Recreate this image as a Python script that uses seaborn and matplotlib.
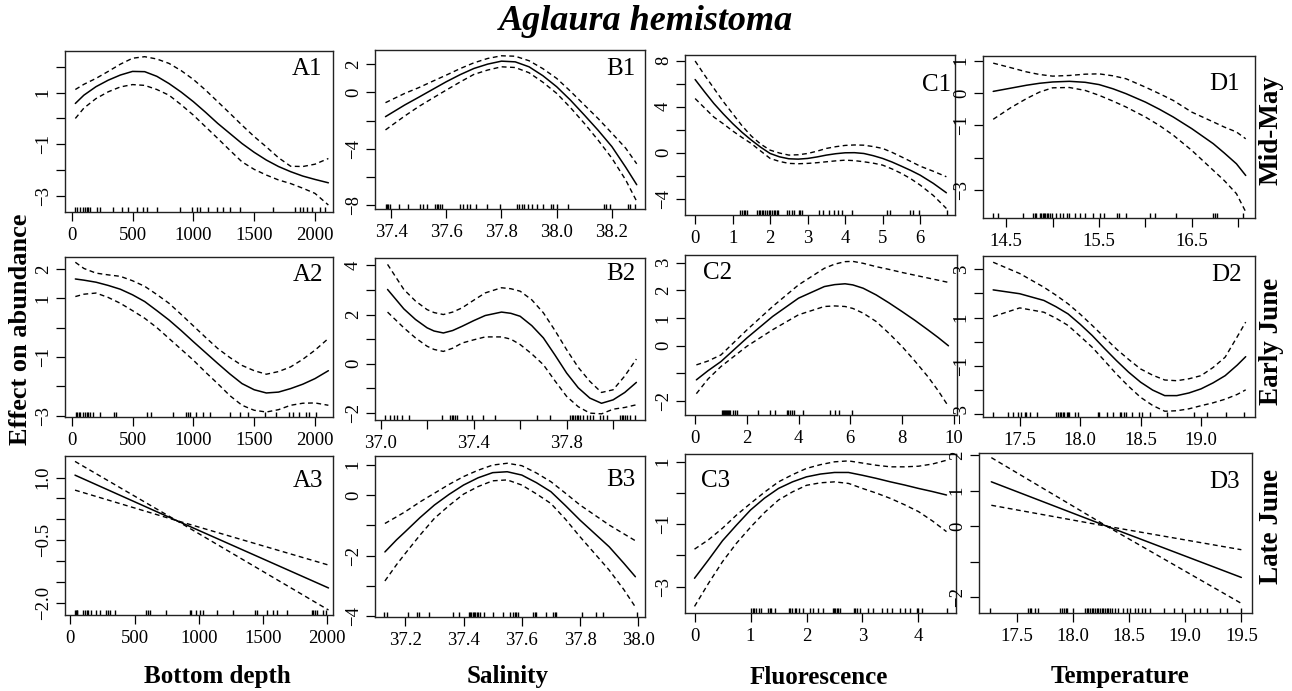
import matplotlib
matplotlib.use("Agg")
import matplotlib.pyplot as plt
import seaborn as sns

# ---------------- data ----------------
# GAM partial effects of Aglaura hemistoma: fit, upper and lower band, rug of observations

# A: bottom depth
a1_x = [30, 100, 200, 300, 400, 500, 600, 700, 800, 900, 1000, 1100, 1200, 1300, 1400, 1500,
        1600, 1700, 1800, 1900, 2000, 2110]
a1_fit = [0.58, 0.90, 1.23, 1.48, 1.68, 1.82, 1.81, 1.63, 1.35, 1.02, 0.65, 0.24, -0.19, -0.58,
          -0.97, -1.31, -1.61, -1.86, -2.06, -2.23, -2.36, -2.49]
a1_up = [1.12, 1.32, 1.55, 1.82, 2.10, 2.33, 2.39, 2.30, 2.13, 1.85, 1.51, 1.10, 0.65, 0.20,
         -0.26, -0.70, -1.10, -1.52, -1.85, -1.86, -1.77, -1.55]
a1_lo = [0.00, 0.40, 0.77, 1.03, 1.22, 1.31, 1.28, 1.12, 0.90, 0.53, 0.13, -0.32, -0.77, -1.23,
         -1.68, -1.97, -2.19, -2.38, -2.52, -2.70, -2.90, -3.35]
a1_rug = [27, 41, 68, 96, 110, 123, 137, 151, 205, 233, 342, 411, 466, 534, 589, 616, 699,
          890, 986, 1027, 1055, 1123, 1192, 1247, 1301, 1384, 1658, 1836, 1877, 1904, 1932,
          1973, 2041, 2082]

a2_x = [30, 100, 200, 300, 400, 500, 600, 700, 800, 900, 1000, 1100, 1200, 1300, 1400, 1500,
        1600, 1700, 1800, 1900, 2000, 2110]
a2_fit = [1.66, 1.62, 1.55, 1.44, 1.31, 1.12, 0.89, 0.58, 0.26, -0.10, -0.48, -0.85, -1.22,
          -1.58, -1.91, -2.12, -2.23, -2.20, -2.08, -1.93, -1.74, -1.47]
a2_up = [2.23, 2.02, 1.86, 1.80, 1.75, 1.60, 1.41, 1.13, 0.83, 0.45, 0.06, -0.33, -0.71, -1.02,
         -1.29, -1.47, -1.59, -1.50, -1.34, -1.08, -0.77, -0.37]
a2_lo = [1.06, 1.14, 1.18, 1.03, 0.83, 0.58, 0.32, 0.00, -0.37, -0.74, -1.11, -1.52, -1.91,
         -2.32, -2.65, -2.82, -2.88, -2.80, -2.65, -2.58, -2.57, -2.65]
a2_rug = [36, 46, 57, 68, 96, 109, 123, 137, 150, 178, 232, 347, 363, 615, 648, 833, 943,
          956, 970, 1025, 1079, 1134, 1298, 1380, 1448, 1585, 1680, 1790, 1817, 1872, 1926,
          1954, 2008]

a3_x = [36, 826, 2010]
a3_fit = [1.06, -0.03, -1.65]
a3_up = [1.39, -0.03, -2.18]
a3_lo = [0.70, -0.03, -1.10]
a3_rug = [39, 44, 49, 55, 96, 117, 128, 138, 161, 201, 227, 279, 292, 305, 344, 591, 604,
          617, 747, 930, 943, 982, 1008, 1034, 1138, 1268, 1438, 1451, 1529, 1581, 1607,
          1685, 1880, 1893, 1906, 1919, 1971, 1992]

# B: salinity
b1_x = [37.38, 37.45, 37.50, 37.55, 37.60, 37.65, 37.70, 37.75, 37.80, 37.85, 37.90, 37.95,
        38.00, 38.05, 38.10, 38.15, 38.20, 38.25, 38.29]
b1_fit = [-1.72, -0.89, -0.35, 0.20, 0.75, 1.25, 1.69, 2.00, 2.21, 2.16, 1.81, 1.18, 0.40,
          -0.55, -1.60, -2.68, -3.84, -5.30, -6.54]
b1_up = [-0.73, -0.07, 0.33, 0.78, 1.22, 1.68, 2.09, 2.40, 2.59, 2.56, 2.24, 1.68, 0.99, 0.08,
         -0.89, -1.85, -2.89, -3.95, -5.06]
b1_lo = [-2.66, -1.67, -1.01, -0.42, 0.16, 0.73, 1.27, 1.58, 1.81, 1.76, 1.39, 0.72, -0.07,
         -1.08, -2.19, -3.38, -4.66, -6.20, -7.72]
b1_rug = [37.381, 37.384, 37.390, 37.396, 37.430, 37.463, 37.505, 37.517, 37.529, 37.560,
          37.566, 37.572, 37.578, 37.584, 37.650, 37.662, 37.674, 37.686, 37.708, 37.747,
          37.795, 37.856, 37.864, 37.874, 37.882, 37.898, 37.910, 37.928, 37.952, 37.980,
          37.988, 38.000, 38.040, 38.170, 38.178, 38.194, 38.260, 38.266, 38.285]

b2_x = [37.03, 37.10, 37.15, 37.20, 37.23, 37.27, 37.31, 37.35, 37.40, 37.45, 37.52, 37.56,
        37.60, 37.65, 37.70, 37.75, 37.80, 37.85, 37.90, 37.95, 38.00, 38.05, 38.10]
b2_fit = [3.02, 2.23, 1.80, 1.46, 1.33, 1.25, 1.35, 1.52, 1.75, 1.96, 2.10, 2.05, 1.93, 1.55,
          1.05, 0.35, -0.38, -0.98, -1.40, -1.61, -1.47, -1.17, -0.76]
b2_up = [4.04, 3.02, 2.55, 2.20, 2.08, 2.00, 2.10, 2.27, 2.58, 2.88, 3.09, 3.05, 2.95, 2.60,
         2.07, 1.35, 0.57, -0.15, -0.72, -1.17, -1.06, -0.50, 0.19]
b2_lo = [2.10, 1.46, 1.05, 0.71, 0.58, 0.50, 0.63, 0.84, 0.97, 1.09, 1.09, 1.00, 0.78, 0.40,
         -0.04, -0.70, -1.33, -1.75, -2.01, -2.04, -1.85, -1.78, -1.67]
b2_rug = [37.019, 37.040, 37.057, 37.072, 37.090, 37.123, 37.262, 37.298, 37.305, 37.313,
          37.320, 37.327, 37.370, 37.391, 37.442, 37.492, 37.671, 37.728, 37.814, 37.821,
          37.829, 37.836, 37.843, 37.850, 37.857, 37.872, 37.886, 37.900, 37.915, 37.943,
          37.958, 37.972, 38.029, 38.037, 38.044, 38.051, 38.058, 38.072, 38.094]

b3_x = [37.13, 37.17, 37.20, 37.25, 37.30, 37.35, 37.40, 37.45, 37.50, 37.55, 37.60, 37.65,
        37.70, 37.75, 37.80, 37.85, 37.90, 37.95, 37.99]
b3_fit = [-1.88, -1.48, -1.21, -0.75, -0.33, 0.02, 0.33, 0.57, 0.74, 0.77, 0.66, 0.41, 0.11,
          -0.35, -0.83, -1.27, -1.71, -2.25, -2.70]
b3_up = [-0.94, -0.72, -0.55, -0.23, 0.06, 0.35, 0.61, 0.82, 0.99, 1.05, 0.97, 0.73, 0.44,
         0.06, -0.33, -0.66, -0.99, -1.28, -1.51]
b3_lo = [-2.84, -2.30, -1.93, -1.33, -0.77, -0.35, 0.03, 0.28, 0.47, 0.50, 0.33, 0.04, -0.28,
         -0.80, -1.38, -1.93, -2.48, -3.12, -3.70]
b3_rug = [37.128, 37.136, 37.208, 37.239, 37.246, 37.280, 37.363, 37.384, 37.418, 37.423,
          37.427, 37.432, 37.436, 37.441, 37.446, 37.450, 37.455, 37.470, 37.500, 37.535,
          37.558, 37.569, 37.575, 37.581, 37.587, 37.638, 37.644, 37.650, 37.682, 37.707,
          37.713, 37.719, 37.805, 37.856, 37.879, 37.994]

# C: fluorescence
c1_x = [0.0, 0.25, 0.5, 0.75, 1.0, 1.25, 1.5, 1.75, 2.0, 2.25, 2.5, 2.75, 3.0, 3.25, 3.5,
        3.75, 4.0, 4.25, 4.5, 4.75, 5.0, 5.25, 5.5, 5.75, 6.0, 6.35, 6.7]
c1_fit = [6.36, 5.30, 4.28, 3.38, 2.54, 1.78, 1.10, 0.48, -0.06, -0.35, -0.52, -0.55, -0.49,
          -0.36, -0.20, -0.08, 0.00, 0.01, -0.06, -0.25, -0.49, -0.80, -1.16, -1.53, -1.94,
          -2.65, -3.47]
c1_up = [7.97, 6.75, 5.60, 4.45, 3.40, 2.35, 1.45, 0.75, 0.23, -0.02, -0.20, -0.17, -0.06,
         0.14, 0.38, 0.53, 0.64, 0.68, 0.66, 0.54, 0.38, 0.04, -0.35, -0.75, -1.16, -1.60, -2.08]
c1_lo = [4.71, 3.90, 3.10, 2.52, 1.90, 1.33, 0.80, 0.15, -0.49, -0.75, -0.92, -0.95, -0.92,
         -0.86, -0.78, -0.70, -0.64, -0.68, -0.78, -0.90, -1.07, -1.40, -1.79, -2.25, -2.80,
         -3.70, -4.83]
c1_rug = [1.20, 1.24, 1.29, 1.33, 1.38, 1.64, 1.69, 1.73, 1.78, 1.82, 1.87, 1.91, 1.96, 2.00,
          2.04, 2.09, 2.13, 2.18, 2.22, 2.44, 2.49, 2.58, 2.64, 2.76, 2.80, 2.84, 3.29, 3.42,
          3.56, 3.69, 3.82, 3.91, 4.18, 5.11, 5.20, 5.73, 5.82, 5.98, 6.71]

c2_x = [0.05, 0.5, 1, 2, 3, 4, 5, 5.4, 5.8, 6.1, 6.5, 7, 7.5, 8, 8.5, 9, 9.4, 9.8]
c2_fit = [-1.23, -0.90, -0.57, 0.28, 1.06, 1.72, 2.14, 2.21, 2.24, 2.20, 2.08, 1.84, 1.55,
          1.24, 0.92, 0.58, 0.30, 0.00]
c2_up = [-0.69, -0.55, -0.33, 0.57, 1.42, 2.20, 2.80, 2.95, 3.04, 3.05, 2.98, 2.86, 2.76,
         2.65, 2.55, 2.45, 2.37, 2.29]
c2_lo = [-1.73, -1.20, -0.75, -0.02, 0.58, 1.12, 1.42, 1.44, 1.42, 1.35, 1.18, 0.88, 0.45,
         -0.02, -0.55, -1.11, -1.62, -2.19]
c2_rug = [1.03, 1.07, 1.11, 1.15, 1.19, 1.23, 1.26, 1.30, 1.35, 1.46, 1.55, 1.64, 2.45, 2.90,
          3.10, 3.55, 3.61, 3.68, 3.74, 3.81, 4.19, 5.23, 5.42, 5.55, 6.06]

c3_x = [0.0, 0.25, 0.5, 0.75, 1.0, 1.25, 1.5, 1.75, 2.0, 2.25, 2.5, 2.75, 3.0, 3.25, 3.5,
        3.75, 4.0, 4.25, 4.5]
c3_fit = [-2.73, -2.14, -1.53, -1.03, -0.55, -0.17, 0.14, 0.35, 0.51, 0.60, 0.65, 0.65, 0.56,
          0.46, 0.35, 0.25, 0.14, 0.04, -0.07]
c3_up = [-1.80, -1.50, -1.13, -0.71, -0.34, 0.02, 0.35, 0.58, 0.78, 0.90, 0.99, 1.02, 0.95,
         0.88, 0.83, 0.83, 0.85, 0.92, 1.04]
c3_lo = [-3.63, -2.89, -2.20, -1.61, -1.10, -0.63, -0.23, 0.03, 0.24, 0.32, 0.35, 0.30, 0.14,
         -0.01, -0.18, -0.38, -0.60, -0.90, -1.24]
c3_rug = [1.01, 1.04, 1.07, 1.10, 1.15, 1.19, 1.31, 1.34, 1.37, 1.43, 1.69, 1.71, 1.74, 1.79,
          1.82, 1.87, 1.94, 2.06, 2.12, 2.21, 2.29, 2.47, 2.49, 2.51, 2.54, 2.56, 2.59, 2.84,
          2.87, 2.90, 2.96, 3.10, 3.19, 3.34, 3.43, 3.52, 3.67, 3.76, 3.85, 3.97, 4.00, 4.06,
          4.51]

# D: temperature
d1_x = [14.36, 14.55, 14.72, 14.86, 15.0, 15.18, 15.35, 15.5, 15.65, 15.79, 16.0, 16.15, 16.3,
        16.5, 16.73, 16.85, 16.98, 17.08]
d1_fit = [0.05, 0.15, 0.24, 0.30, 0.34, 0.36, 0.33, 0.26, 0.13, -0.02, -0.28, -0.50, -0.74,
          -1.10, -1.56, -1.85, -2.18, -2.54]
d1_up = [0.92, 0.78, 0.65, 0.57, 0.52, 0.54, 0.58, 0.59, 0.53, 0.44, 0.18, -0.02, -0.23,
         -0.59, -0.89, -1.05, -1.20, -1.41]
d1_lo = [-0.81, -0.45, -0.17, 0.03, 0.16, 0.17, 0.08, -0.07, -0.25, -0.43, -0.74, -1.00,
         -1.30, -1.77, -2.38, -2.70, -3.10, -3.66]
d1_rug = [14.356, 14.41, 14.68, 14.79, 14.806, 14.82, 14.86, 14.88, 14.90, 14.91, 14.92,
          14.94, 14.95, 14.97, 14.99, 15.04, 15.08, 15.11, 15.15, 15.18, 15.24, 15.29, 15.35,
          15.44, 15.51, 15.55, 15.69, 15.72, 15.79, 16.05, 16.10, 16.33, 16.73, 16.75, 16.77,
          17.05]

d2_x = [17.28, 17.5, 17.7, 17.8, 17.9, 18.0, 18.1, 18.2, 18.3, 18.4, 18.5, 18.6, 18.7, 18.8,
        18.9, 19.0, 19.1, 19.2, 19.3, 19.37]
d2_fit = [2.15, 1.99, 1.71, 1.45, 1.15, 0.72, 0.25, -0.28, -0.79, -1.27, -1.69, -2.02, -2.25,
          -2.25, -2.14, -1.97, -1.72, -1.42, -0.98, -0.63]
d2_up = [3.30, 2.83, 2.26, 1.93, 1.57, 1.14, 0.67, 0.18, -0.31, -0.74, -1.14, -1.40, -1.60,
         -1.63, -1.55, -1.42, -1.08, -0.65, 0.20, 0.81]
d2_lo = [1.04, 1.40, 1.22, 0.97, 0.67, 0.22, -0.24, -0.79, -1.35, -1.86, -2.32, -2.66, -2.90,
         -2.88, -2.80, -2.67, -2.55, -2.40, -2.20, -2.01]
d2_rug = [17.28, 17.40, 17.445, 17.486, 17.514, 17.54, 17.555, 17.583, 17.64, 17.80, 17.82,
          17.83, 17.845, 17.86, 17.87, 17.89, 17.90, 17.91, 17.96, 17.98, 18.15, 18.16, 18.22,
          18.27, 18.33, 18.34, 18.36, 18.38, 18.43, 18.49, 18.51, 18.58, 18.72, 18.94, 19.05,
          19.21, 19.36]

d3_x = [17.27, 18.3, 19.5]
d3_fit = [1.25, 0.00, -1.44]
d3_up = [1.93, 0.00, -2.17]
d3_lo = [0.59, 0.00, -0.66]
d3_rug = [17.256, 17.598, 17.613, 17.628, 17.658, 17.688, 17.882, 17.896, 17.917, 17.935,
          17.947, 18.0, 18.105, 18.12, 18.135, 18.15, 18.165, 18.18, 18.194, 18.209, 18.224,
          18.239, 18.254, 18.269, 18.284, 18.299, 18.314, 18.329, 18.344, 18.373, 18.403,
          18.448, 18.478, 18.507, 18.552, 18.582, 18.612, 18.642, 18.686, 18.806, 18.895,
          18.969, 19.074, 19.133, 19.193, 19.312, 19.372, 19.5]

# tick positions and labels (R drops labels that would overlap)
depth_ticks = [0, 500, 1000, 1500, 2000]
depth_labels = ["0", "500", "1000", "1500", "2000"]

title = "Aglaura hemistoma"
y_title = "Effect on abundance"
x_titles = ["Bottom depth", "Salinity", "Fluorescence", "Temperature"]
row_titles = ["Mid-May", "Early June", "Late June"]

# ---------------- figure ----------------
sns.set_theme(style="ticks")
plt.rcParams["font.family"] = ["Liberation Serif", "DejaVu Serif"]
plt.rcParams.update({"text.color": "black", "axes.labelcolor": "black",
                     "xtick.color": "black", "ytick.color": "black"})

W, H = 1292, 691
fig = plt.figure(figsize=(W / 100, H / 100), dpi=100)

M = "\u2212"
panels = [
    dict(tag="A1", x=a1_x, fit=a1_fit, up=a1_up, lo=a1_lo, rug=a1_rug,
         box=(65, 51, 333, 212), xlim=(-55, 2148), ylim=(-3.62, 2.61),
         xt=depth_ticks, xl=depth_labels,
         yt=[-3, -2, -1, 0, 1, 2], yl=[M + "3", "", M + "1", "", "1", ""], tp=(0.96, 0.89, "right")),
    dict(tag="B1", x=b1_x, fit=b1_fit, up=b1_up, lo=b1_lo, rug=b1_rug,
         box=(375, 50, 645, 209), xlim=(37.342, 38.32), ylim=(-8.26, 3.0),
         xt=[37.4, 37.6, 37.8, 38.0, 38.2], xl=["37.4", "37.6", "37.8", "38.0", "38.2"],
         yt=[-8, -6, -4, -2, 0, 2], yl=[M + "8", "", M + "4", "", "0", "2"], tp=(0.963, 0.88, "right")),
    dict(tag="C1", x=c1_x, fit=c1_fit, up=c1_up, lo=c1_lo, rug=c1_rug,
         box=(685, 55, 955, 215), xlim=(-0.27, 6.93), ylim=(-5.4, 8.49),
         xt=[0, 1, 2, 3, 4, 5, 6], xl=["0", "1", "2", "3", "4", "5", "6"],
         yt=[-4, -2, 0, 2, 4, 6, 8], yl=[M + "4", "", "0", "", "4", "", "8"], tp=(0.985, 0.81, "right")),
    dict(tag="D1", x=d1_x, fit=d1_fit, up=d1_up, lo=d1_lo, rug=d1_rug,
         box=(983, 56, 1255, 218), xlim=(14.25, 17.18), ylim=(-3.85, 1.14),
         xt=[14.5, 15.0, 15.5, 16.0, 16.5, 17.0], xl=["14.5", "", "15.5", "", "16.5", ""],
         yt=[-3, -2, -1, 0, 1], yl=[M + "3", "", M + "1", "0", "1"], tp=(0.945, 0.83, "right")),
    dict(tag="A2", x=a2_x, fit=a2_fit, up=a2_up, lo=a2_lo, rug=a2_rug,
         box=(65, 257, 333, 417), xlim=(-55, 2148), ylim=(-3.05, 2.41),
         xt=depth_ticks, xl=depth_labels,
         yt=[-3, -2, -1, 0, 1, 2], yl=[M + "3", "", M + "1", "", "1", "2"], tp=(0.965, 0.89, "right")),
    dict(tag="B2", x=b2_x, fit=b2_fit, up=b2_up, lo=b2_lo, rug=b2_rug,
         box=(375, 258, 645, 420), xlim=(36.976, 38.137), ylim=(-2.29, 4.30),
         xt=[37.0, 37.2, 37.4, 37.6, 37.8, 38.0], xl=["37.0", "", "37.4", "", "37.8", ""],
         yt=[-2, -1, 0, 1, 2, 3, 4], yl=[M + "2", "", "0", "", "2", "", "4"], tp=(0.966, 0.90, "right")),
    dict(tag="C2", x=c2_x, fit=c2_fit, up=c2_up, lo=c2_lo, rug=c2_rug,
         box=(685, 255, 957, 415), xlim=(-0.39, 10.13), ylim=(-2.5, 3.28),
         xt=[0, 2, 4, 6, 8, 10], xl=["0", "2", "4", "6", "8", "10"],
         yt=[-2, -1, 0, 1, 2, 3], yl=[M + "2", "", "0", "1", "2", "3"], tp=(0.065, 0.885, "left")),
    dict(tag="D2", x=d2_x, fit=d2_fit, up=d2_up, lo=d2_lo, rug=d2_rug,
         box=(983, 256, 1255, 417), xlim=(17.196, 19.447), ylim=(-3.14, 3.56),
         xt=[17.5, 18.0, 18.5, 19.0], xl=["17.5", "18.0", "18.5", "19.0"],
         yt=[-3, -2, -1, 0, 1, 2, 3], yl=[M + "3", "", M + "1", "", "1", "", "3"], tp=(0.95, 0.88, "right")),
    dict(tag="A3", x=a3_x, fit=a3_fit, up=a3_up, lo=a3_lo, rug=a3_rug,
         box=(65, 456, 333, 615), xlim=(-42, 2045), ylim=(-2.30, 1.52),
         xt=depth_ticks, xl=depth_labels,
         yt=[-2.0, -1.5, -1.0, -0.5, 0.0, 0.5, 1.0], yl=[M + "2.0", "", "", M + "0.5", "", "", "1.0"],
         tp=(0.965, 0.84, "right")),
    dict(tag="B3", x=b3_x, fit=b3_fit, up=b3_up, lo=b3_lo, rug=b3_rug,
         box=(375, 456, 645, 617), xlim=(37.096, 38.023), ylim=(-4.03, 1.29),
         xt=[37.2, 37.4, 37.6, 37.8, 38.0], xl=["37.2", "37.4", "37.6", "37.8", "38.0"],
         yt=[-4, -3, -2, -1, 0, 1], yl=[M + "4", "", M + "2", "", "0", "1"], tp=(0.963, 0.85, "right")),
    dict(tag="C3", x=c3_x, fit=c3_fit, up=c3_up, lo=c3_lo, rug=c3_rug,
         box=(685, 454, 956, 613), xlim=(-0.17, 4.67), ylim=(-3.84, 1.24),
         xt=[0, 1, 2, 3, 4], xl=["0", "1", "2", "3", "4"],
         yt=[-3, -2, -1, 0, 1], yl=[M + "3", "", M + "1", "", "1"], tp=(0.06, 0.83, "left")),
    dict(tag="D3", x=d3_x, fit=d3_fit, up=d3_up, lo=d3_lo, rug=d3_rug,
         box=(979, 453, 1252, 613), xlim=(17.16, 19.595), ylim=(-2.44, 2.06),
         xt=[17.5, 18.0, 18.5, 19.0, 19.5], xl=["17.5", "18.0", "18.5", "19.0", "19.5"],
         yt=[-2, -1, 0, 1, 2], yl=[M + "2", "", "0", "1", "2"], tp=(0.957, 0.82, "right")),
]

for p in panels:
    l, t, r, b = p["box"]
    ax = fig.add_axes([l / W, 1 - b / H, (r - l) / W, (b - t) / H])
    sns.lineplot(x=p["x"], y=p["fit"], ax=ax, color="black", lw=1.1,
                 estimator=None, sort=False)
    for key in ("up", "lo"):
        sns.lineplot(x=p["x"], y=p[key], ax=ax, color="black", lw=1.0,
                     linestyle=(0, (3.5, 2.5)), estimator=None, sort=False)
    sns.rugplot(x=p["rug"], ax=ax, height=0.03, color="black", lw=0.7)

    ax.set_xlim(*p["xlim"])
    ax.set_ylim(*p["ylim"])
    ax.set_xticks(p["xt"])
    ax.set_xticklabels(p["xl"])
    ax.set_yticks(p["yt"])
    ax.set_yticklabels(p["yl"], rotation=90, va="center")
    ax.tick_params(direction="out", length=6.5, width=0.9, colors="black",
                   labelsize=13.5, pad=3)
    ax.tick_params(axis="x", pad=4)
    for s in ax.spines.values():
        s.set_visible(True)
        s.set_color("#222222")
        s.set_linewidth(1.0)
    ax.set_xlabel("")
    ax.set_ylabel("")
    tx, ty, ha = p["tp"]
    ax.text(tx, ty, p["tag"], transform=ax.transAxes, ha=ha, va="center", fontsize=18)

fig.text(0.5, 1 - 22 / H, title, ha="center", va="center", fontsize=26,
         fontweight="bold", style="italic")
fig.text(21 / W, 1 - 329 / H, y_title, rotation=90, ha="center", va="center",
         fontsize=19, fontweight="bold")
for xc, lab in zip([217, 508, 819, 1120], x_titles):
    fig.text(xc / W, 1 - 677 / H, lab, ha="center", va="center", fontsize=18, fontweight="bold")
for yc, lab in zip([130, 341, 526], row_titles):
    fig.text(1271 / W, 1 - yc / H, lab, rotation=90, ha="center", va="center",
             fontsize=19.5, fontweight="bold")

fig.savefig("out.png", dpi=100)
